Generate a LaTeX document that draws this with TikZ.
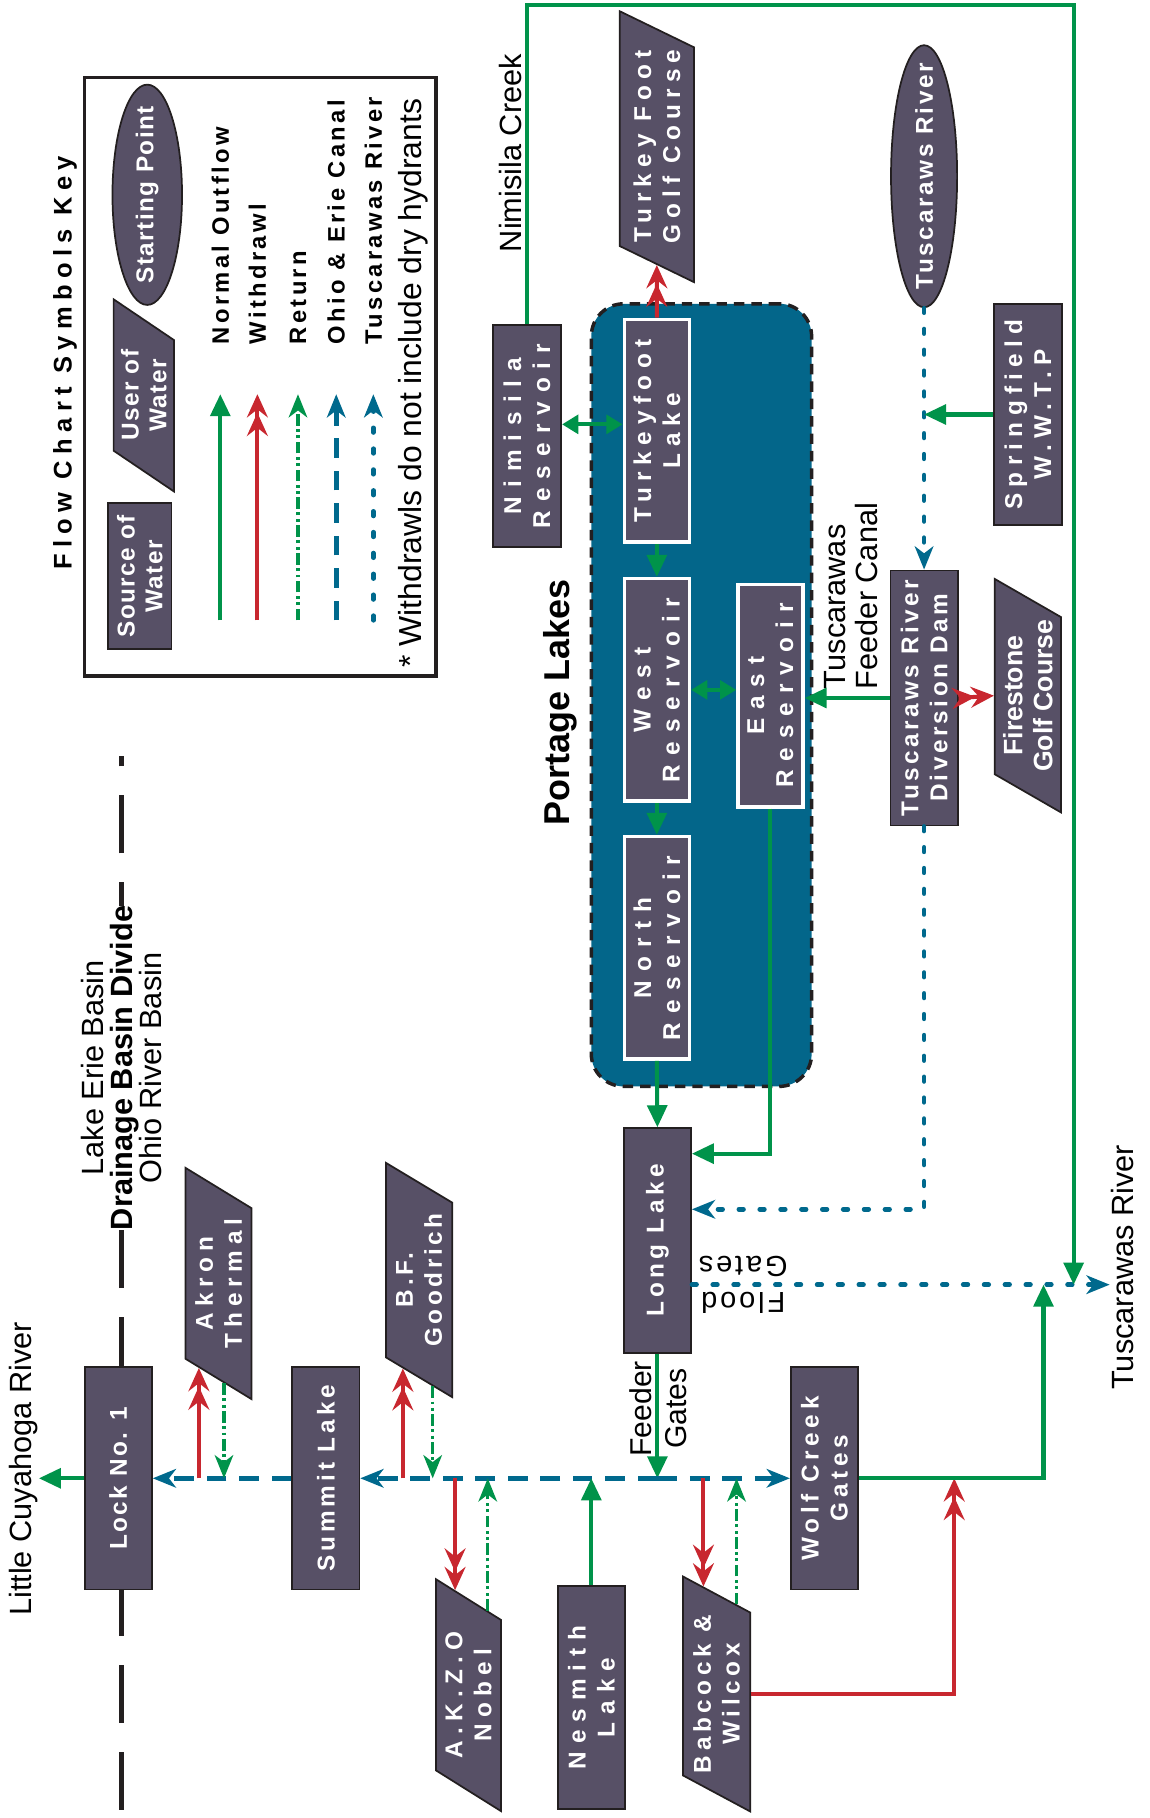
\documentclass[tikz,border=0pt]{standalone}
\usepackage{fontspec}
\setmainfont{Liberation Sans}
\usepackage{tikz}
\usetikzlibrary{arrows.meta,shapes.geometric,calc}
\definecolor{pgbox}{HTML}{575066}
\definecolor{pgedge}{HTML}{231F20}
\definecolor{pglake}{HTML}{03668A}
\definecolor{pggreen}{HTML}{00934A}
\definecolor{pgred}{HTML}{C8272F}
\definecolor{pgteal}{HTML}{00698D}

\begin{document}
\begin{tikzpicture}[x=1pt, y=-1pt,
  font=\fontsize{26.5}{25}\selectfont,
  tracking/.style={font=\bfseries\fontsize{21}{25}\selectfont\addfontfeatures{LetterSpace=#1}},
  srcbox/.style={rectangle, draw=pgedge, line width=1.5pt, fill=pgbox,
    rotate=90, minimum width=192pt, minimum height=58pt, inner sep=2pt,
    align=center, text=white, tracking=20},
  lakebox/.style={srcbox, draw=white, line width=3pt, minimum height=56pt},
  userbox/.style={srcbox, trapezium, trapezium left angle=55,
    trapezium right angle=125, trapezium stretches=true,
    minimum width=200pt, minimum height=57pt},
  startpt/.style={srcbox, ellipse, inner xsep=-22pt, minimum width=226pt, minimum height=57pt},
  txt/.style={rotate=90, align=center, inner sep=1pt},
  keytxt/.style={txt, anchor=west,
    font=\bfseries\fontsize{20.5}{20}\selectfont\addfontfeatures{LetterSpace=14}},
  keyshape/.style={font=\bfseries\fontsize{21}{24}\selectfont\addfontfeatures{LetterSpace=6}},
  outflow/.style={color=pggreen, line width=3.5pt, -{Triangle[length=19pt,width=17pt]}},
  twoway/.style={outflow, {Triangle[length=14pt,width=16pt]}-{Triangle[length=14pt,width=16pt]}},
  withdraw/.style={color=pgred, line width=3.5pt,
    -{Stealth[length=20pt,width=18pt,inset=7pt,sep=-4pt]Stealth[length=20pt,width=18pt,inset=7pt]}},
  giveback/.style={color=pggreen, line width=3pt,
    dash pattern=on 10pt off 3pt on 2.5pt off 3pt on 2.5pt off 3pt,
    -{Stealth[length=20pt,width=16pt,inset=6pt]}},
  canal/.style={color=pgteal, line width=4pt, dash pattern=on 17pt off 11pt,
    -{Stealth[length=20pt,width=16pt,inset=6pt]}},
  tusflow/.style={color=pgteal, line width=4pt, line cap=round,
    dash pattern=on 4pt off 14pt, -{Stealth[length=20pt,width=16pt,inset=6pt]}},
  ]
  \useasboundingbox (0,0) rectangle (991,1568);

  % Symbols key
  \node[draw=pgedge, line width=3pt, minimum width=303pt, minimum height=516pt] (keyframe) at (224.5,325) {};
  \node[txt, font=\bfseries\fontsize{22}{22}\selectfont\addfontfeatures{LetterSpace=25}] (keytitle) at (56,313) {Flow Chart Symbols Key};
  \node[srcbox, keyshape, minimum width=126pt, minimum height=55pt] (keysrc) at (120.5,497) {Source of\\Water};
  \node[userbox, keyshape, minimum width=166pt, minimum height=52pt] (keyuser) at (124,341) {User of\\Water};
  \node[startpt, keyshape, minimum width=190pt, minimum height=60pt] (keystart) at (127,168) {Starting Point};
  \node[keytxt] (keynormal) at (190,298) {Normal Outflow};
  \node[keytxt] (keywithdraw) at (222,298) {Withdrawl};
  \node[keytxt] (keyreturn) at (257,298) {Return};
  \node[keytxt] (keycanal) at (290,298) {Ohio \& Erie Canal};
  \node[keytxt] (keyriver) at (322,298) {Tuscarawas River};
  \node[txt, anchor=west, font=\fontsize{27.5}{27.5}\selectfont] (keynote) at (356,577) {* Withdrawls do not include dry hydrants};
  \coordinate (keylow) at (0,535);
  \coordinate (keyhigh) at (0,340);
  \draw[outflow] (keynormal.center |- keylow) -- (keynormal.center |- keyhigh);
  \draw[withdraw] (keywithdraw.center |- keylow) -- (keywithdraw.center |- keyhigh);
  \draw[giveback] (keyreturn.center |- keylow) -- (keyreturn.center |- keyhigh);
  \draw[canal] (keycanal.center |- keylow) -- (keycanal.center |- keyhigh);
  \draw[tusflow] (keyriver.center |- keylow) -- (keyriver.center |- keyhigh);

  % Drainage basin divide
  \draw[pgedge, line width=4pt, dash pattern=on 50pt off 25pt] (105,1561) -- (105,652);
  \node[txt, fill=white, inner sep=0pt] (basins) at (105,921)
    {Lake Erie Basin\\\textbf{Drainage Basin Divide}\\Ohio River Basin};

  % Ohio & Erie Canal side
  \node[txt] (cuyahoga) at (20,1267) {Little Cuyahoga River};
  \node[srcbox, tracking=10] (lock) at (102,1275) {Lock No. 1};
  \node[userbox, tracking=24] (akron) at (188.5,1107) {Akron\\Thermal};
  \node[srcbox, tracking=16] (summit) at (281,1275) {Summit Lake};
  \node[userbox, tracking=15, minimum width=202pt] (goodrich) at (361.5,1104) {B.F.\\Goodrich};
  \node[userbox, tracking=26, minimum height=56pt] (akzo) at (404,1462) {A.K.Z.O\\Nobel};
  \node[srcbox, tracking=33] (nesmith) at (510,1464) {Nesmith\\Lake};
  \node[userbox, tracking=19, minimum height=58pt] (babcock) at (618,1461) {Babcock \&\\Wilcox};
  \node[srcbox, tracking=19] (wolf) at (711,1275) {Wolf Creek\\Gates};
  \node[srcbox, tracking=18, minimum width=194pt] (longlake) at (567,1070) {Long Lake};
  \node[txt, font=\fontsize{26}{30}\selectfont] (feedlbl) at (568,1215) {Feeder\\Gates};
  \node[rotate=180, align=center, inner sep=1pt,
    font=\fontsize{25}{31}\selectfont\addfontfeatures{LetterSpace=10}] (floodlbl) at (641,1108) {Flood\\Gates};
  \node[txt] (tusriver) at (968,1093) {Tuscarawas River};

  % Portage Lakes
  \node[draw=pgedge, line width=3pt, dash pattern=on 9pt off 6pt, fill=pglake,
    rounded corners=28pt, minimum width=190pt, minimum height=675pt] (portage) at (605,599.5) {};
  \node[txt, font=\bfseries\fontsize{31}{31}\selectfont] (portlabel) at (483,606) {Portage Lakes};
  \node[lakebox, tracking=27] (turkeyfoot) at (566.5,371.5) {Turkeyfoot\\Lake};
  \node[lakebox, tracking=37] (westres) at (566.5,595) {West\\Reservoir};
  \node[lakebox, tracking=37] (northres) at (566.5,817.5) {North\\Reservoir};
  \node[lakebox, tracking=37] (eastres) at (664.5,600) {East\\Reservoir};
  \node[srcbox, tracking=37, minimum height=59pt] (nimisila) at (454.5,376) {Nimisila\\Reservoir};
  \node[txt] (nimcreek) at (440,132) {Nimisila Creek};
  \node[userbox, tracking=25, minimum width=227pt, minimum height=64pt] (tfgolf) at (566.5,126.5) {Turkey Foot\\Golf Course};

  % Tuscarawas River side
  \node[startpt, tracking=11] (tusstart) at (797,152) {Tuscaraws River};
  \node[srcbox, tracking=26, minimum width=191pt, minimum height=59pt] (springfield) at (886.5,357.5) {Springfield\\W.W.T.P};
  \node[srcbox, tracking=14, minimum width=220pt] (divdam) at (797,602) {Tuscaraws River\\Diversion Dam};
  \node[txt, align=left, font=\fontsize{26.5}{28}\selectfont] (feedcanal) at (734,514) {Tuscarawas\\Feeder Canal};
  \node[userbox, font=\bfseries\fontsize{23}{26}\selectfont] (firestone) at (886.5,600) {Firestone\\Golf Course};

  % Canal connections
  \coordinate (feedjoin) at (longlake.west |- summit.south);
  \draw[outflow] (longlake.west) -- (feedjoin);
  \draw[canal] (feedjoin) -- (summit.south);
  \draw[canal] (feedjoin) -- (wolf.north);
  \draw[canal] (summit.north) -- (lock.south);
  \draw[outflow] (lock.north) -- (lock.north -| cuyahoga.south);

  \coordinate (akronw) at ($(akron.top left corner)!0.21!(akron.bottom left corner)$);
  \coordinate (akronr) at ($(akron.top left corner)!0.58!(akron.bottom left corner)$);
  \draw[withdraw] (akronw |- lock.south) -- (akronw);
  \draw[giveback] (akronr) -- (akronr |- lock.south);
  \coordinate (goodw) at ($(goodrich.top left corner)!0.26!(goodrich.bottom left corner)$);
  \coordinate (goodr) at ($(goodrich.top left corner)!0.70!(goodrich.bottom left corner)$);
  \draw[withdraw] (goodw |- lock.south) -- (goodw);
  \draw[giveback] (goodr) -- (goodr |- lock.south);
  \coordinate (akzow) at ($(akzo.top right corner)!0.30!(akzo.bottom right corner)$);
  \coordinate (akzor) at ($(akzo.top right corner)!0.79!(akzo.bottom right corner)$);
  \draw[withdraw] (akzow |- lock.south) -- (akzow);
  \draw[giveback] (akzor) -- (akzor |- lock.south);
  \draw[outflow] (nesmith.east) -- (nesmith.east |- lock.south);
  \coordinate (bww) at ($(babcock.top right corner)!0.31!(babcock.bottom right corner)$);
  \coordinate (bwr) at ($(babcock.top right corner)!0.79!(babcock.bottom right corner)$);
  \draw[withdraw] (bww |- lock.south) -- (bww);
  \draw[giveback] (bwr) -- (bwr |- lock.south);

  \coordinate (floodjoin) at (900,1108);
  \coordinate (bwjoin) at (823,1275);
  \draw[withdraw] (babcock.south) -| (bwjoin);
  \draw[outflow] (wolf.south) -| (floodjoin);
  \draw[tusflow] (longlake.south |- floodjoin) -- (tusriver.north |- floodjoin);
  \coordinate (creekcorner) at (926,4);
  \draw[outflow] (nimisila.east) |- (creekcorner) -- (creekcorner |- floodjoin);

  % Portage Lakes connections
  \coordinate (nimport) at ($(nimisila.south)+(0,-10)$);
  \draw[twoway] (nimport) -- (nimport -| turkeyfoot.north);
  \draw[withdraw] (turkeyfoot.east) -- (tfgolf.west);
  \draw[outflow] (turkeyfoot.west) -- (westres.east);
  \draw[outflow] (westres.west) -- (northres.east);
  \draw[outflow] (northres.west) -- (longlake.east);
  \draw[twoway] (westres.south) -- (westres.south -| eastres.north);
  \draw[outflow] (eastres.west) |- ($(longlake.south)+(0,-75)$);

  % Tuscarawas connections
  \draw[tusflow] (tusstart.west) -- (divdam.east);
  \draw[outflow] (springfield.north) -- (springfield.north -| tusstart.west);
  \draw[outflow] (divdam.north) -- (divdam.north -| eastres.south);
  \draw[withdraw] (divdam.south) -- (firestone.north);
  \draw[tusflow] (divdam.west) |- ($(longlake.south)+(0,-27)$);
\end{tikzpicture}
\end{document}
